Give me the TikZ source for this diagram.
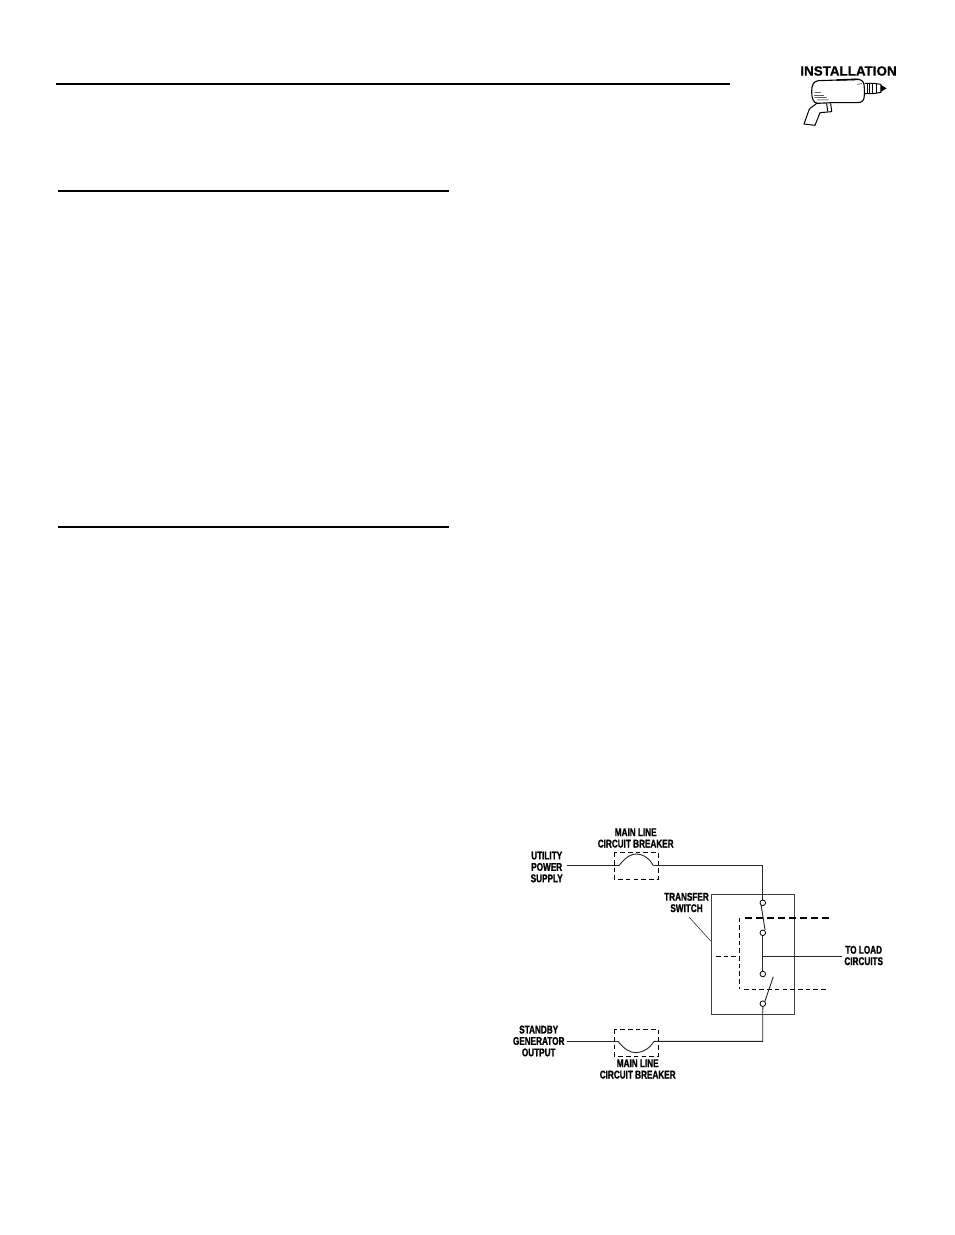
\documentclass[tikz,border=0pt]{standalone}
\usepackage{fontspec}
\setmainfont{Liberation Sans}
\newfontfamily\narrowbold[FakeStretch=0.73,FakeBold=1.2]{Liberation Sans Bold}
\newfontfamily\headbold[FakeBold=0.6]{Liberation Sans Bold}
\usetikzlibrary{calc}
\tikzset{
  wire/.style={line width=0.9pt,black!85},
  boxline/.style={line width=0.8pt,black!75},
  rulebar/.style={line width=2pt,black},
  dashthin/.style={line width=0.85pt,black,dash pattern=on 4.6pt off 3.1pt},
  dashthick/.style={line width=1.8pt,black,dash pattern=on 7pt off 4pt},
  contact/.style={circle,draw,line width=0.8pt,fill=white,minimum size=5.6pt,inner sep=0pt},
  lbl/.style={font=\narrowbold\fontsize{11.2}{11.4}\selectfont,align=center,inner sep=0pt,text=black},
  drillline/.style={line width=1pt,black,line join=round}
}
\begin{document}
\begin{tikzpicture}[x=1pt,y=-1pt]
\useasboundingbox (0,0) rectangle (954,1235);
\fill[white] (0,0) rectangle (954,1235);
% page rules
\draw[rulebar] (56,84) -- (730,84);
\draw[rulebar] (58,191) -- (449,191);
\draw[rulebar] (58,527) -- (449,527);
% drill icon
\node[font=\headbold\fontsize{13.4}{14}\selectfont,inner sep=0pt] (inst) at (848.5,71) {INSTALLATION};
\begin{scope}[shift={(780,50)},x=0.3333pt,y=-0.3333pt]
  \draw[drillline,line width=1.1pt] (115,92) -- (235,88) .. controls (250,90) and (253,100) .. (253,115) -- (253,135) .. controls (253,150) and (248,158) .. (232,158) -- (155,158) -- (112,160) .. controls (100,158) and (95,145) .. (95,125) .. controls (95,105) and (100,94) .. (115,92) -- cycle;
  \draw[drillline,line width=1.6pt] (170,90) -- (235,88);
  \draw[drillline] (110,160) .. controls (100,170) and (90,172) .. (87,180) -- (72,222) -- (105,226) -- (120,188) -- (155,185) -- (152,160);
  \draw[drillline] (140,160) -- (143,184);
  \draw[drillline] (254,100) -- (280,100) -- (303,103) -- (303,127) -- (280,131) -- (254,131);
  \draw[drillline] (262,100) -- (262,131) (270,100) -- (270,131) (278,100) -- (278,131) (290,102) -- (290,128);
  \fill[black] (303,105) -- (320,115) -- (303,125) -- cycle;
  \draw[drillline,line width=0.5pt] (104,128) -- (122,128) (102,136) -- (132,136) (104,143) -- (140,143) (112,150) -- (146,150) (232,103) -- (246,101);
\end{scope}
% utility breaker
\coordinate (uin) at (567,865.7);
\coordinate (ual) at (619,865.7);
\coordinate (uar) at (653.5,865.7);
\coordinate (ucorner) at (762.5,865.7);
\draw[wire] (uin) -- (ual);
\draw[wire] (ual) -- ++(1.5,-2) .. controls (627,856) and (632,854) .. (636.5,854) .. controls (642,854) and (648,857) .. (652,863.5) -- (uar);
\draw[dashthin] (614.3,852.3) rectangle (658,879.3);
% generator breaker
\coordinate (gin) at (567,1041.3);
\coordinate (gal) at (618,1041.3);
\coordinate (gar) at (654,1041.3);
\coordinate (gcorner) at (762.7,1041.3);
\draw[wire] (gin) -- (gal);
\draw[wire] (gal) .. controls (624,1049) and (630,1052.7) .. (636,1052.7) .. controls (643,1052.7) and (650,1048) .. (654,1041.3);
\draw[dashthin] (614.3,1029.3) rectangle (658.3,1056);
% transfer switch box
\node[draw,boxline,minimum width=83.6pt,minimum height=119.7pt,inner sep=0pt,anchor=north west] (box) at (710.7,894.3) {};
% contacts
\draw[wire] (uar) -- (ucorner) -- (762.5,900);
\node[contact] (c1) at (762.8,902.8) {};
\node[contact] (c2) at (762.8,932.8) {};
\node[contact] (c3) at (762.8,974) {};
\node[contact] (c4) at (762.8,1003.7) {};
\draw[wire] (c1.south west) ++(0.6,0) -- (765,929.8);
\draw[wire] (c4.north east) ++(-0.3,0.3) -- (773.3,976.7);
\draw[wire] (c2.south) -- (c3.north);
\draw[wire] (c4.south) -- (gcorner) -- (gar);
% load
\coordinate (loadj) at (762.5,956);
\coordinate (loadend) at (841.7,956);
\draw[wire] (loadj) -- (loadend);
% mechanical interlock
\coordinate (ia) at (739.3,917.5);
\coordinate (ib) at (739.3,989);
\coordinate (ic) at (739.3,956);
\coordinate (ie) at (716,956);
\draw[dashthick] (745,918) -- (829,918);
\draw[dashthin] (ia) -- (ib);
\draw[dashthin] (744,989) -- (826,989);
\draw[dashthin] (ie) -- (ic);
% labels
\node[lbl] (l1) at (635.7,838) {MAIN LINE\\CIRCUIT BREAKER};
\node[lbl] (l2) at (546.7,867) {UTILITY\\POWER\\SUPPLY};
\node[lbl] (l3) at (686.5,902.5) {TRANSFER\\SWITCH};
\node[lbl] (l4) at (863.7,955.5) {TO LOAD\\CIRCUITS};
\node[lbl] (l5) at (538.7,1041) {STANDBY\\GENERATOR\\OUTPUT};
\node[lbl] (l6) at (637.7,1069) {MAIN LINE\\CIRCUIT BREAKER};
\coordinate (lead) at (689,917);
\draw[line width=0.6pt,black!80] (lead) -- (box.west |- 0,941);
\end{tikzpicture}
\end{document}
